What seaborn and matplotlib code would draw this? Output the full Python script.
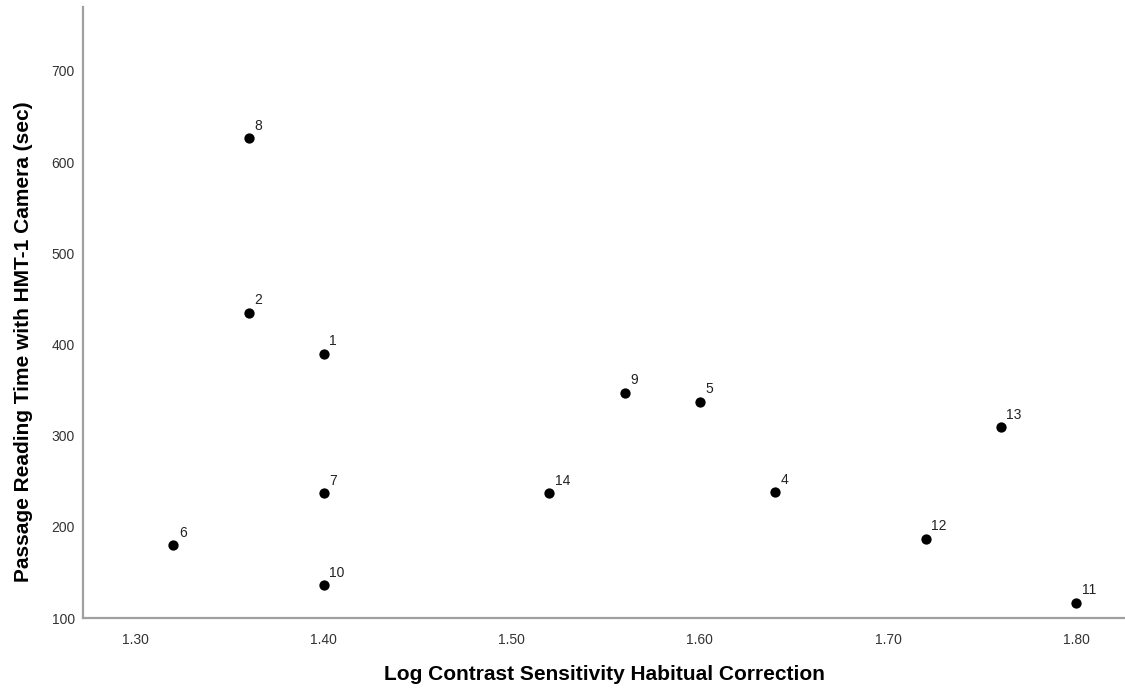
import matplotlib
matplotlib.use("Agg")
import matplotlib.pyplot as plt
import seaborn as sns
import pandas as pd

case_ids = ["1", "2", "4", "5", "6", "7", "8", "9", "10", "11", "12", "13", "14"]
log_cs = [1.40, 1.36, 1.64, 1.60, 1.32, 1.40, 1.36, 1.56, 1.40, 1.80, 1.72, 1.76, 1.52]
reading_time = [390, 435, 238, 337, 180, 237, 626, 347, 136, 117, 187, 309, 237]

x_ticks = [1.30, 1.40, 1.50, 1.60, 1.70, 1.80]
x_tick_labels = ["1.30", "1.40", "1.50", "1.60", "1.70", "1.80"]
y_ticks = [100, 200, 300, 400, 500, 600, 700]

df = pd.DataFrame({"id": case_ids, "x": log_cs, "y": reading_time})

sns.set_theme(style="white")
plt.rcParams["font.family"] = ["Liberation Sans", "DejaVu Sans"]

fig = plt.figure(figsize=(11.25, 7), dpi=100)
ax = fig.add_axes([0.0738, 0.117, 0.9262, 0.873])

sns.scatterplot(data=df, x="x", y="y", ax=ax, color="black", s=55,
                edgecolor="black", linewidth=0, legend=False, zorder=3)

for _, r in df.iterrows():
    ax.annotate(r["id"], (r["x"], r["y"]), xytext=(4, 4), textcoords="offset points",
                fontsize=10, color="#222222", ha="left", va="bottom")

ax.set_xlim(1.272, 1.826)
ax.set_ylim(100, 770)
ax.set_xticks(x_ticks)
ax.set_xticklabels(x_tick_labels)
ax.set_yticks(y_ticks)

ax.tick_params(axis="both", length=0, labelsize=10, labelcolor="#333333")
ax.tick_params(axis="x", pad=11)
ax.tick_params(axis="y", pad=6)

for side in ["top", "right"]:
    ax.spines[side].set_visible(False)
for side in ["left", "bottom"]:
    ax.spines[side].set_color("#a0a0a0")
    ax.spines[side].set_linewidth(1.6)

ax.set_xlabel("Log Contrast Sensitivity Habitual Correction", fontsize=15,
              fontweight="bold", color="black")
ax.set_ylabel("Passage Reading Time with HMT-1 Camera (sec)", fontsize=15,
              fontweight="bold", color="black")
ax.xaxis.label.set_va("center")
ax.yaxis.label.set_va("center")
ax.xaxis.set_label_coords(0.5, -0.093)
ax.yaxis.set_label_coords(-0.0576, 0.453)

fig.savefig("out.png", dpi=100)
